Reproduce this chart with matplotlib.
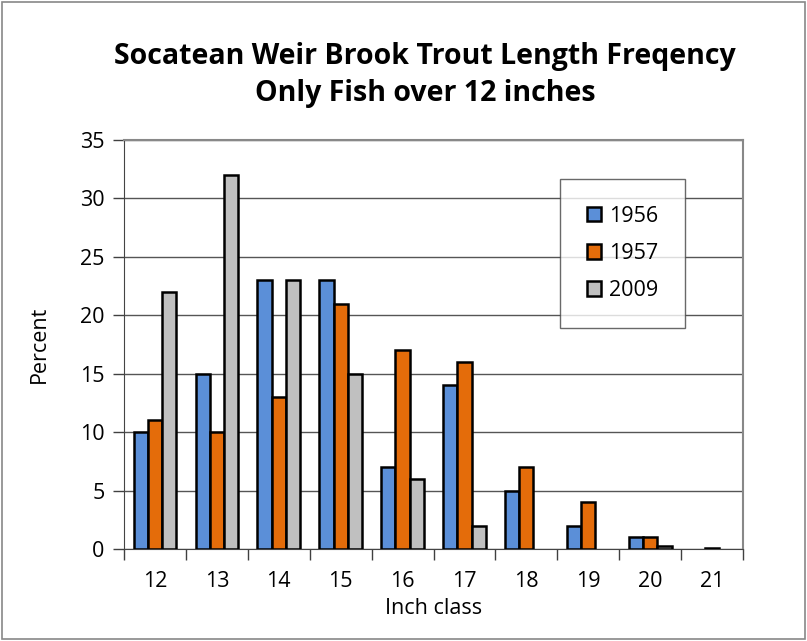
import numpy as np
import matplotlib
matplotlib.use("Agg")
from matplotlib import pyplot as plt
from matplotlib.patches import Rectangle

plt.rcParams['font.family'] = ['Open Sans', 'DejaVu Sans']

# datos
clases = ["12", "13", "14", "15", "16", "17", "18", "19", "20", "21"]
y1956 = [10, 15, 23, 23, 7, 14, 5, 2, 1, 0]
y1957 = [11, 10, 13, 21, 17, 16, 7, 4, 1, 0.1]
y2009 = [22, 32, 23, 15, 6, 2, 0, 0, 0.3, 0]

fig = plt.figure(figsize=(8.07, 6.41), dpi=100)
ax = fig.add_axes([0.1537, 0.1435, 0.767, 0.638])

x = np.arange(len(clases))
w = 0.23
series = [("1956", y1956, "#5B8FD8"), ("1957", y1957, "#E46C0A"), ("2009", y2009, "#C0C0C0")]
for k, (lab, vals, col) in enumerate(series):
    barras = ax.bar(x + (k - 1) * w, vals, w, color=col, edgecolor="black", linewidth=1.8,
                    label=lab, zorder=3)
    for b in barras:
        if b.get_height() == 0:
            b.set_linewidth(0)

ax.set_xlim(-0.5, len(clases) - 0.5)
ax.set_ylim(0, 35)
ax.set_yticks(range(0, 36, 5))
ax.set_xticks(x)
ax.set_xticklabels(clases)
ax.set_xticks(np.arange(-0.5, len(clases), 1), minor=True)
ax.tick_params(axis="x", which="major", length=0, labelsize=15.5, pad=16)
ax.tick_params(axis="x", which="minor", length=8, width=1, color="#404040")
ax.tick_params(axis="y", length=8, width=1, labelsize=15.5, color="#404040", pad=6)
ax.grid(axis="y", color="#555555", linewidth=1, zorder=0)
for s in ["top", "right"]:
    ax.spines[s].set_color("#888888")
    ax.spines[s].set_linewidth(1.5)
ax.spines["left"].set_color("#444444")
ax.spines["bottom"].set_color("#444444")

ax.set_xlabel("Inch class", fontsize=15.5, labelpad=4)
ax.set_ylabel("Percent", fontsize=15.5, labelpad=22)
fig.suptitle("Socatean Weir Brook Trout Length Freqency\nOnly Fish over 12 inches",
             fontsize=20.5, fontweight="bold", x=0.527, y=0.935, linespacing=1.4)

leg = ax.legend(loc="upper left", bbox_to_anchor=(0.705, 0.905), fontsize=15.5,
                frameon=True, fancybox=False, edgecolor="#444444",
                labelspacing=0.75, handlelength=0.65, handleheight=0.65,
                handletextpad=0.35, borderpad=1.25, borderaxespad=0)
leg.get_frame().set_linewidth(1)
leg.set_zorder(5)

# borde exterior
fig.patches.append(Rectangle((0.003, 0.003), 0.994, 0.994, transform=fig.transFigure,
                             fill=False, edgecolor="#888888", linewidth=1.2))

fig.savefig("out.png", dpi=100)
